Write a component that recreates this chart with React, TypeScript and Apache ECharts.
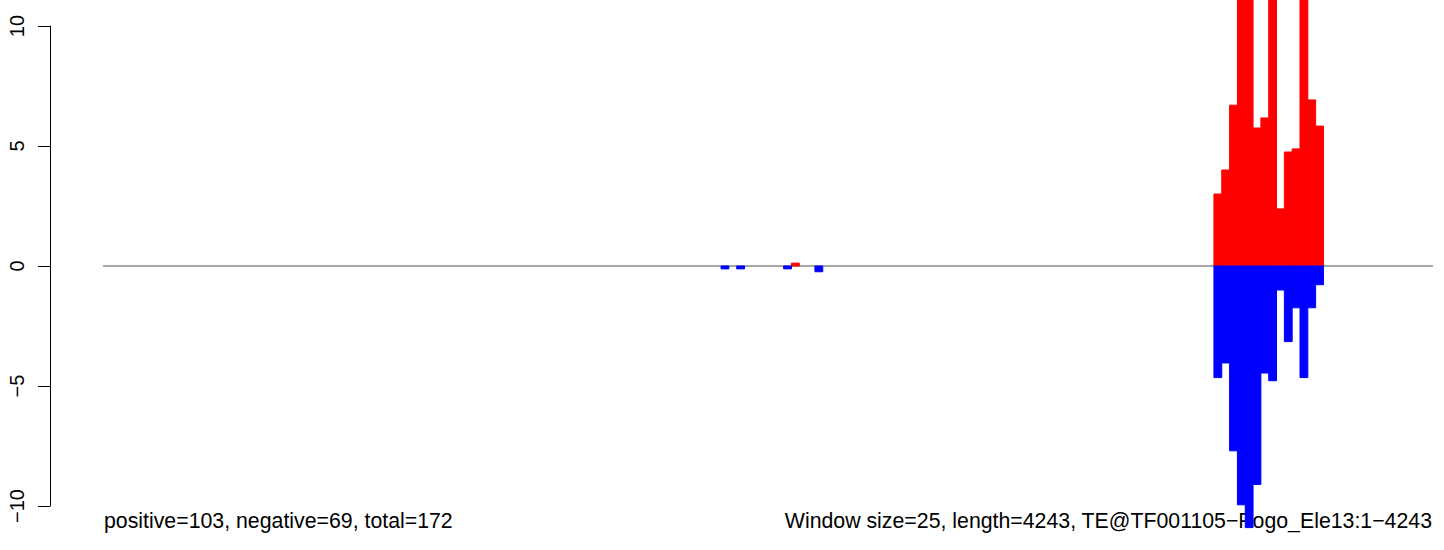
import React, { useEffect, useRef } from "react";
import * as echarts from "echarts";

const windowSize = 25;
const seqLength = 4243;
const axisMaxBp = 4250;
const yTicks = [-10, -5, 0, 5, 10];

// window indices (0-based, window k covers [k*25, (k+1)*25))
const windowIndex = [79, 81, 87, 88, 91, 142, 143, 144, 145, 146, 147, 148, 149, 150, 151, 152, 153, 154, 155];
const positiveValues = [0, 0, 0, 0.12, 0, 3.0, 4.0, 6.7, 14, 13, 5.75, 6.17, 12, 2.38, 4.75, 4.88, 12.5, 6.92, 5.83];
const negativeValues = [-0.12, -0.12, -0.12, 0, -0.24, -4.65, -4.04, -7.7, -9.95, -10.9, -9.1, -4.46, -4.78, -1.0, -3.15, -1.74, -4.65, -1.74, -0.78];

const leftText = "positive=103, negative=69, total=172";
const rightText = `Window size=${windowSize}, length=${seqLength}, TE@TF001105\u2212Pogo_Ele13:1\u2212${seqLength}`;

const FONT = "'Liberation Sans', Arial, Helvetica, sans-serif";

function barRender(color: string) {
  return (params: any, api: any) => {
    const idx = api.value(0);
    const v = api.value(1);
    if (!v) return null;
    const p0 = api.coord([idx * windowSize, 0]);
    const p1 = api.coord([(idx + 1) * windowSize, v]);
    const x = Math.min(p0[0], p1[0]);
    const y = Math.min(p0[1], p1[1]);
    return {
      type: "rect",
      shape: { x, y, width: Math.abs(p1[0] - p0[0]), height: Math.abs(p1[1] - p0[1]) },
      style: { fill: color, stroke: color, lineWidth: 1 },
    };
  };
}

export default function App() {
  const ref = useRef<HTMLDivElement>(null);
  useEffect(() => {
    if (!ref.current) return;
    const chart = echarts.init(ref.current, undefined, { renderer: "svg" });
    const posData = windowIndex.map((w, i) => [w, positiveValues[i]]);
    const negData = windowIndex.map((w, i) => [w, negativeValues[i]]);
    chart.setOption({
      animation: false,
      backgroundColor: "#ffffff",
      grid: { left: 103, width: 1330, top: 26, height: 480, containLabel: false },
      xAxis: {
        type: "value",
        min: 0,
        max: axisMaxBp,
        show: false,
      },
      yAxis: {
        type: "value",
        min: -10,
        max: 10,
        interval: 5,
        offset: 53,
        axisLine: { show: true, onZero: false, lineStyle: { color: "#000", width: 1 } },
        axisTick: { show: true, length: 12, lineStyle: { color: "#000", width: 1 } },
        axisLabel: {
          rotate: 90,
          margin: 23,
          fontSize: 20,
          color: "#000",
          fontFamily: FONT,
          formatter: (v: number) => (yTicks.includes(v) ? String(v).replace("-", "\u2212") : ""),
        },
        splitLine: { show: false },
      },
      graphic: [
        {
          type: "text",
          x: 104,
          y: 521,
          z: 0,
          style: { text: leftText, fontSize: 21.3, fontFamily: FONT, fill: "#000", align: "left", verticalAlign: "middle" },
        },
        {
          type: "text",
          x: 1432,
          y: 521,
          z: 0,
          style: { text: rightText, fontSize: 21.3, fontFamily: FONT, fill: "#000", align: "right", verticalAlign: "middle" },
        },
      ],
      series: [
        {
          type: "line",
          data: [[0, 0], [axisMaxBp, 0]],
          symbol: "none",
          lineStyle: { color: "#8a8a8a", width: 1.5 },
          z: 1,
          silent: true,
        },
        {
          type: "custom",
          renderItem: barRender("#ff0000"),
          data: posData,
          clip: false,
          z: 5,
        },
        {
          type: "custom",
          renderItem: barRender("#0000ff"),
          data: negData,
          clip: false,
          z: 5,
        },
      ],
    });
    return () => chart.dispose();
  }, []);
  return <div ref={ref} style={{ position: "absolute", left: 0, top: 0, width: 1444, height: 550 }} />;
}
